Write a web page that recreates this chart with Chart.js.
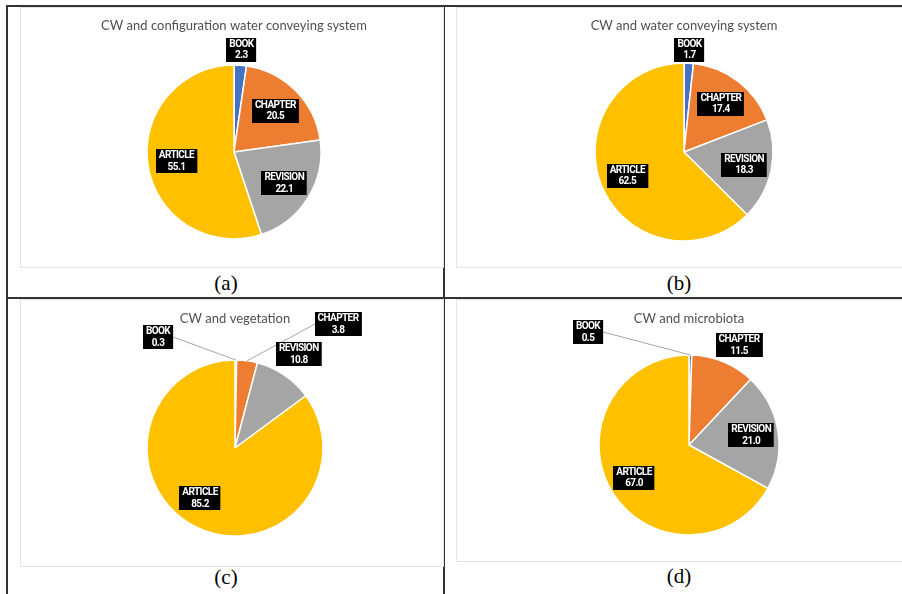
<!DOCTYPE html>
<html>
<head>
<meta charset="utf-8">
<script src="https://cdn.jsdelivr.net/npm/chart.js@4.4.1/dist/chart.umd.min.js"></script>
<style>
  html, body { margin: 0; padding: 0; background: #fff; }
  body { width: 902px; height: 594px; position: relative; overflow: hidden; }
  .rule { position: absolute; background: #333; }
  .panel { position: absolute; border: 1.5px solid #e4e4e4; box-sizing: border-box; background: #fff; }
  .cap { position: absolute; font-family: "Liberation Serif", "Times New Roman", serif; font-size: 21px; color: #000; transform: translateX(-50%); line-height: 1; }
  canvas { position: absolute; }
</style>
</head>
<body>
<div class="rule" style="left:7px;top:5px;width:895px;height:2px"></div>
<div class="rule" style="left:6px;top:5px;width:2px;height:589px"></div>
<div class="rule" style="left:443px;top:5px;width:2px;height:589px"></div>
<div class="rule" style="left:7px;top:297px;width:895px;height:2px"></div>

<div class="panel" style="left:20px;top:7px;width:424px;height:261px"></div>
<div class="panel" style="left:456px;top:7px;width:450px;height:261px"></div>
<div class="panel" style="left:20px;top:299px;width:424px;height:268px"></div>
<div class="panel" style="left:456px;top:299px;width:450px;height:263px"></div>

<div class="cap" style="left:226px;top:273px">(a)</div>
<div class="cap" style="left:679px;top:273px">(b)</div>
<div class="cap" style="left:226px;top:567px">(c)</div>
<div class="cap" style="left:679px;top:566px">(d)</div>

<canvas id="ca"></canvas>
<canvas id="cb"></canvas>
<canvas id="cc"></canvas>
<canvas id="cd"></canvas>

<script>
// ---------- DATA ----------
const categories = ["BOOK", "CHAPTER", "REVISION", "ARTICLE"];
const titles = [
  "CW and configuration water conveying system",
  "CW and water conveying system",
  "CW and vegetation",
  "CW and microbiota"
];
const valuesA = [2.3, 20.5, 22.1, 55.1];
const valuesB = [1.7, 17.4, 18.3, 62.5];
const valuesC = [0.3, 3.8, 10.8, 85.2];
const valuesD = [0.5, 11.5, 21.0, 67.0];

// ---------- STYLE / LAYOUT ----------
const sliceColors = ["#4472C4", "#ED7D31", "#A5A5A5", "#FFC000"];

// label placement: {k} = along slice mid-angle at k*radius; {dx,dy} = offset from centre in px
const layoutA = [{k: 1.18}, {k: 0.67}, {k: 0.68}, {k: 0.67}];
const layoutB = [{k: 1.15}, {k: 0.68}, {k: 0.69}, {k: 0.69}];
const layoutC = [{dx: -77, dy: -111, leader: "right"}, {dx: 103, dy: -124, leader: "left"}, {k: 1.29}, {dx: -35, dy: 50}];
const layoutD = [{dx: -101, dy: -113, leader: "right"}, {dx: 50, dy: -100}, {k: 0.7}, {k: 0.71}];

const labelPlugin = {
  id: "boxLabels",
  afterDatasetsDraw(chart, args, opts) {
    const ctx = chart.ctx;
    const meta = chart.getDatasetMeta(0);
    const data = chart.data.datasets[0].data;
    const layout = opts.layout;
    ctx.save();
    ctx.font = 'bold 10px Roboto, "Liberation Sans", sans-serif';
    if ('letterSpacing' in ctx) ctx.letterSpacing = "-0.6px";
    meta.data.forEach((arc, i) => {
      const p = arc.getProps(["x", "y", "startAngle", "endAngle", "outerRadius"], true);
      const mid = (p.startAngle + p.endAngle) / 2;
      const L = layout[i] || {k: 0.68};
      let cx, cy;
      if (L.k !== undefined) {
        cx = p.x + Math.cos(mid) * p.outerRadius * L.k;
        cy = p.y + Math.sin(mid) * p.outerRadius * L.k;
      } else {
        cx = p.x + L.dx;
        cy = p.y + L.dy;
      }
      const l1 = chart.data.labels[i];
      const l2 = Number(data[i]).toFixed(1);
      const w = Math.max(ctx.measureText(l1).width, ctx.measureText(l2).width) + 6;
      const h = 24;
      const bx = Math.round(cx - w / 2), by = Math.round(cy - h / 2);
      if (L.leader) {
        const ex = p.x + Math.cos(mid) * p.outerRadius;
        const ey = p.y + Math.sin(mid) * p.outerRadius;
        const sx = L.leader === "right" ? bx + w : bx;
        ctx.strokeStyle = "#A6A6A6";
        ctx.lineWidth = 1;
        ctx.beginPath();
        ctx.moveTo(sx, cy);
        ctx.lineTo(ex, ey);
        ctx.stroke();
      }
      ctx.fillStyle = "#000";
      ctx.fillRect(bx, by, w, h);
      ctx.fillStyle = "#fff";
      ctx.textAlign = "center";
      ctx.textBaseline = "middle";
      ctx.fillText(l1, cx, cy - 5.5);
      ctx.fillText(l2, cx, cy + 6);
    });
    ctx.restore();
  }
};

function makePie(id, values, title, layout, cx, cy, r, titleY) {
  const W = 420, H = 290;
  const c = document.getElementById(id);
  c.width = W; c.height = H;
  c.style.width = W + "px"; c.style.height = H + "px";
  const left = cx - W / 2, top = cy - H / 2;
  c.style.left = left + "px"; c.style.top = top + "px";
  const fs = 13, lh = 1.2;
  const padTop = titleY - top - fs * lh / 2;
  const titleH = padTop + fs * lh;
  new Chart(c, {
    type: "pie",
    data: {
      labels: categories,
      datasets: [{
        data: values,
        backgroundColor: sliceColors,
        borderColor: "#ffffff",
        borderWidth: 1.5
      }]
    },
    options: {
      responsive: false,
      animation: false,
      radius: r,
      layout: { padding: { top: 0, bottom: titleH, left: 0, right: 0 } },
      plugins: {
        legend: { display: false },
        tooltip: { enabled: false },
        title: {
          display: true,
          text: title,
          color: "#505050",
          font: { family: "Lato, 'Open Sans', sans-serif", size: fs, weight: "normal", lineHeight: lh },
          padding: { top: padTop, bottom: 0 }
        },
        boxLabels: { layout: layout }
      }
    },
    plugins: [labelPlugin]
  });
}

makePie("ca", valuesA, titles[0], layoutA, 234, 151.5, 87, 25);
makePie("cb", valuesB, titles[1], layoutB, 684, 151.5, 89, 25);
makePie("cc", valuesC, titles[2], layoutC, 234.5, 447.5, 88, 318);
makePie("cd", valuesD, titles[3], layoutD, 688.5, 444.5, 90, 318);
</script>
</body>
</html>
